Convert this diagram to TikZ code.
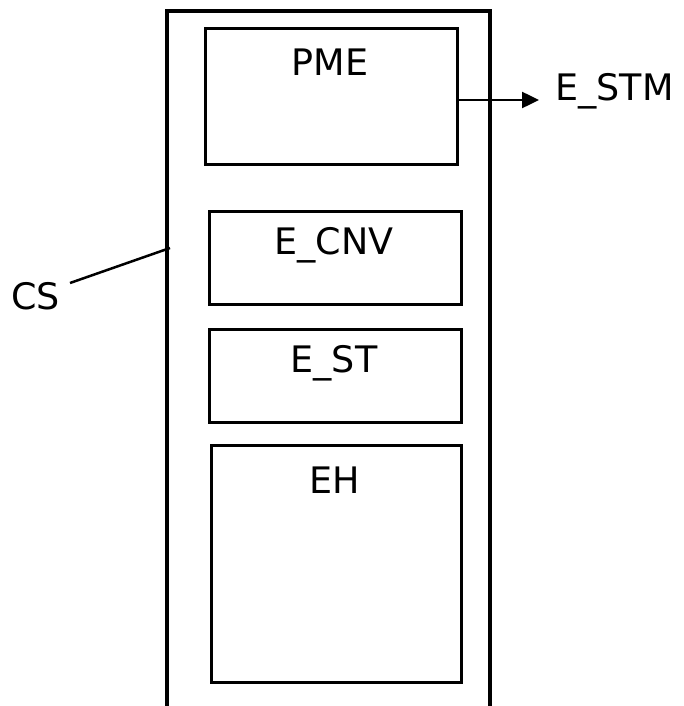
\documentclass[tikz,border=0pt]{standalone}
\usepackage{fontspec}
\setmainfont{DejaVu Sans}
\usetikzlibrary{arrows.meta}
\begin{document}
\begin{tikzpicture}[x=1pt,y=-1pt,
  box/.style={draw,line width=3pt,inner sep=0pt,anchor=north west},
  lbl/.style={font=\fontsize{36.5}{40}\selectfont,inner sep=0pt},
  wire/.style={line width=2.5pt}]
\useasboundingbox (0,0) rectangle (684,706);
% outer housing, open at the bottom
\draw[line width=3.5pt] (167,706) -- (167,11) -- (490,11) -- (490,706);
% inner blocks
\node[box,minimum width=252pt,minimum height=136pt] (pme) at (204,27) {};
\node[box,minimum width=252pt,minimum height=93pt] (cnv) at (208,210) {};
\node[box,minimum width=252pt,minimum height=93pt] (st) at (208,328) {};
\node[box,minimum width=250pt,minimum height=237pt] (eh) at (210,444) {};
% block titles
\node[lbl] at (330,62) {PME};
\node[lbl] at (334,245) {E\_CNV};
\node[lbl] at (334,363) {E\_ST};
\node[lbl] at (335,480) {EH};
% output signal
\node[lbl,anchor=west] (stm) at (555,91) {E\_STM};
\coordinate (pmeout) at (pme.east |- 0,100);
\coordinate (arrend) at (539,100);
\draw[wire,-{Triangle[length=17pt,width=16pt]}] (pmeout) -- (arrend);
% housing callout
\node[lbl,anchor=west] (cs) at (11,296) {CS};
\coordinate (cspt) at (170,248);
\coordinate (csend) at (70,283);
\draw[wire] (csend) -- (cspt);
\end{tikzpicture}
\end{document}
